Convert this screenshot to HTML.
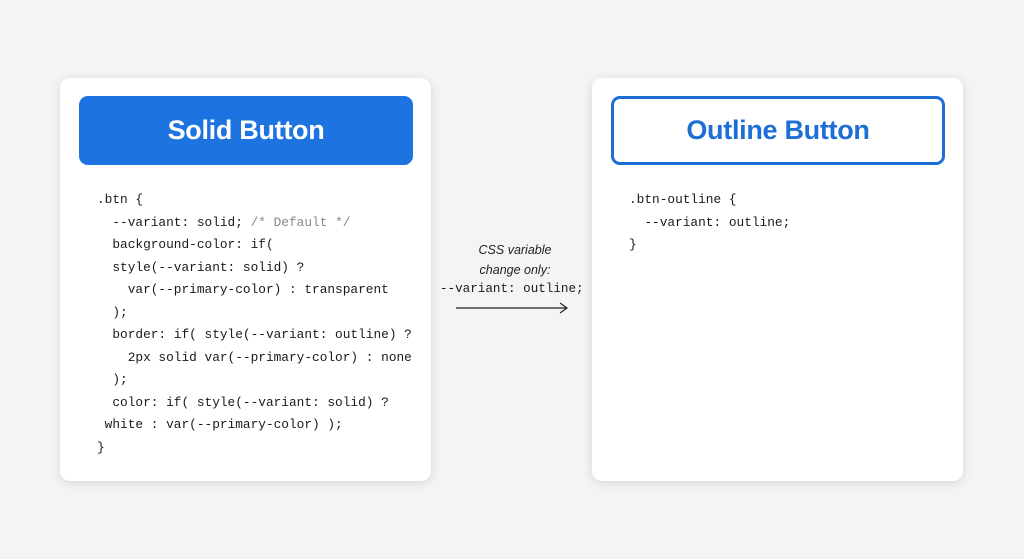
<!DOCTYPE html>
<html><head><style>
body{margin:0;width:1024px;height:559px;background:#f3f4f5;position:relative;overflow:hidden;font-family:"Liberation Sans",sans-serif}
.card{position:absolute;top:78px;width:371px;height:403px;background:#fff;border-radius:10px;box-shadow:0 2px 10px rgba(0,0,0,.12)}
.btn{position:absolute;left:19px;top:18px;width:334px;height:69px;border-radius:9px;box-sizing:border-box;display:flex;align-items:center;justify-content:center;font-size:27px;font-weight:bold;letter-spacing:-0.3px}
pre{position:absolute;margin:0;font-family:"Liberation Mono",monospace;font-size:12.8px;line-height:22.5px;color:#1a1a1a}
.c{color:#888}
</style></head><body>
<div class="card" style="left:60px">
<div class="btn" style="background:#1d74e0;color:#fff">Solid Button</div>
<pre style="left:37px;top:111px">.btn {
  --variant: solid; <span class="c">/* Default */</span>
  background-color: if(
  style(--variant: solid) ?
    var(--primary-color) : transparent
  );
  border: if( style(--variant: outline) ?
    2px solid var(--primary-color) : none
  );
  color: if( style(--variant: solid) ?
 white : var(--primary-color) );
}</pre>
</div>
<div class="card" style="left:592px">
<div class="btn" style="border:3px solid #1d6fd6;color:#1d6fd6">Outline Button</div>
<pre style="left:37px;top:111px">.btn-outline {
  --variant: outline;
}</pre>
</div>
<div style="position:absolute;left:430px;top:240px;width:170px;text-align:center;font-style:italic;font-size:12.5px;line-height:20px;color:#222">CSS variable<br>change only:</div>
<pre style="left:440px;top:278px;font-size:12.6px">--variant: outline;</pre>
<svg style="position:absolute;left:0;top:0" width="1024" height="559"><line x1="456" y1="308" x2="566" y2="308" stroke="#222" stroke-width="1.2"/><path d="M560 303 L567 308 L560 313" fill="none" stroke="#222" stroke-width="1.2"/></svg>
</body></html>
